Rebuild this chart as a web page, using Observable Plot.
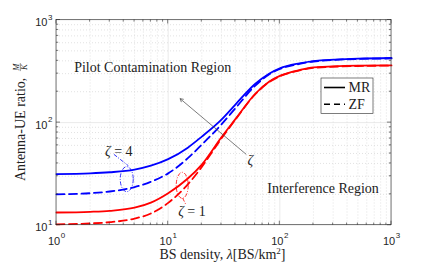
<!DOCTYPE html>
<html><head><meta charset="utf-8">
<script src="https://cdn.jsdelivr.net/npm/d3@7"></script>
<script src="https://cdn.jsdelivr.net/npm/@observablehq/plot@0.6"></script>
<style>body{margin:0;background:#fff}</style>
</head><body><div id="chart"></div>
<script>
const lambda  = [1, 2, 3, 5, 7, 10, 15, 20, 30, 40, 60, 80, 100, 150, 200, 500, 1000];
const mrZeta4 = [31.5, 32, 32.8, 34.8, 38, 44, 57, 73, 107, 150, 238, 300, 338, 378, 398, 420, 426];
const zfZeta4 = [20, 20.5, 21.3, 23.5, 26.5, 32, 45, 61, 96, 138, 228, 294, 333, 373, 394, 417, 422];
const mrZeta1 = [13.3, 13.5, 13.8, 14.8, 16.6, 20.5, 28.5, 39, 72, 108, 190, 250, 285, 325, 345, 359, 361];
const zfZeta1 = [10.2, 10.4, 10.7, 11.6, 13, 16.5, 25, 37, 70, 107, 188, 248, 283, 322, 342, 356, 359];

const xTicks = [1, 10, 100, 1000];
const xTickExp = ["0", "1", "2", "3"];
const yTicks = [10, 100, 1000];
const yTickExp = ["1", "2", "3"];

const seriesNames = ["MR ζ=4", "ZF ζ=4", "MR ζ=1", "ZF ζ=1"];
const seriesColors = ["#0000ff", "#0000ff", "#ff0000", "#ff0000"];
const seriesDash = ["none", "8,4.5", "none", "8,4.5"];
const seriesValues = [mrZeta4, zfZeta4, mrZeta1, zfZeta1];

// annotations (data coordinates)
const regionLabels = [
  {x: 7.27, y: 346, text: "Pilot Contamination Region"},
  {x: 244, y: 23, text: "Interference Region"}
];
const arrowSpec = {x1: 49.7, y1: 49.3, x2: 12.8, y2: 171};
const arrowLabel = {x: 55, y: 42.8};
const zetaLabels = [
  {x: 3.65, y: 52.4, value: "4", ex: 4.3, ey: 27.8, rx: 6.5, ry: 12.5, lx1: 3.3, ly1: 48.5, lx2: 4.45, ly2: 37.5},
  {x: 16.5, y: 13.6, value: "1", ex: 13.5, ey: 24.2, rx: 6, ry: 13, lx1: 13.6, ly1: 18.2, lx2: 14.6, ly2: 15.6}
];
const legendItems = [{label: "MR", dash: "none"}, {label: "ZF", dash: "6,4"}];

const rows = [];
seriesNames.forEach((s, i) => lambda.forEach((l, j) => rows.push({series: s, lambda: l, value: seriesValues[i][j]})));

const serif = "'Liberation Serif','Times New Roman',serif";
const sans = "'Liberation Sans',Arial,sans-serif";
const axisColor = "#262626";

const minorX = [];
[1, 10, 100].forEach(d => { for (let k = 2; k <= 9; k++) minorX.push(d * k); });
const minorY = [];
[10, 100].forEach(d => { for (let k = 2; k <= 9; k++) minorY.push(d * k); });

function decor(index, scales, values, dims) {
  const x = scales.x, y = scales.y;
  const L = dims.marginLeft, R = dims.width - dims.marginRight;
  const T = dims.marginTop, B = dims.height - dims.marginBottom;
  const g = d3.create("svg:g").attr("text-anchor", "start");
  // ticks (inside, all four sides)
  const tk = g.append("g").attr("stroke", axisColor).attr("stroke-width", 0.6);
  xTicks.forEach(v => { const px = x(v);
    tk.append("line").attr("x1", px).attr("x2", px).attr("y1", B).attr("y2", B - 4);
    tk.append("line").attr("x1", px).attr("x2", px).attr("y1", T).attr("y2", T + 4); });
  minorX.forEach(v => { const px = x(v);
    tk.append("line").attr("x1", px).attr("x2", px).attr("y1", B).attr("y2", B - 2.2);
    tk.append("line").attr("x1", px).attr("x2", px).attr("y1", T).attr("y2", T + 2.2); });
  yTicks.forEach(v => { const py = y(v);
    tk.append("line").attr("x1", L).attr("x2", L + 4).attr("y1", py).attr("y2", py);
    tk.append("line").attr("x1", R).attr("x2", R - 4).attr("y1", py).attr("y2", py); });
  minorY.forEach(v => { const py = y(v);
    tk.append("line").attr("x1", L).attr("x2", L + 2.2).attr("y1", py).attr("y2", py);
    tk.append("line").attr("x1", R).attr("x2", R - 2.2).attr("y1", py).attr("y2", py); });
  g.append("rect").attr("x", L).attr("y", T).attr("width", R - L).attr("height", B - T)
    .attr("fill", "none").attr("stroke", axisColor).attr("stroke-width", 0.6);

  // zeta annotations: ellipses, leaders, labels
  zetaLabels.forEach(z => {
    const c = z.value === "4" ? "#0000ff" : "#ff0000";
    g.append("ellipse").attr("cx", x(z.ex)).attr("cy", y(z.ey)).attr("rx", z.rx).attr("ry", z.ry)
      .attr("fill", "none").attr("stroke", c)
      .attr("stroke-width", 0.8).attr("stroke-dasharray", "4,1.5,1,1.5");
    g.append("line").attr("x1", x(z.lx1)).attr("y1", y(z.ly1)).attr("x2", x(z.lx2)).attr("y2", y(z.ly2))
      .attr("stroke", c).attr("stroke-width", 0.8)
      .attr("stroke-dasharray", "4,1.5,1,1.5");
    const t = g.append("text").attr("x", x(z.x)).attr("y", y(z.y)).attr("dy", "0.35em")
      .attr("text-anchor", "middle").attr("font-family", serif).attr("font-size", 14).attr("fill", "#222");
    t.append("tspan").attr("font-style", "italic").text("ζ");
    t.append("tspan").text(" = " + z.value);
  });
  g.append("text").attr("x", x(arrowLabel.x)).attr("y", y(arrowLabel.y)).attr("dy", "0.35em")
    .attr("text-anchor", "middle").attr("font-family", serif).attr("font-size", 14)
    .attr("font-style", "italic").attr("fill", "#222").text("ζ");

  // legend
  const lg = g.append("g");
  const lx = R - 70, ly = T + 58.5;
  lg.append("rect").attr("x", lx).attr("y", ly).attr("width", 52).attr("height", 35.5)
    .attr("fill", "#fff").attr("stroke", axisColor).attr("stroke-width", 0.6);
  legendItems.forEach((it, i) => {
    const yy = ly + 9.5 + i * 16.7;
    lg.append("line").attr("x1", lx + 3).attr("x2", lx + 24).attr("y1", yy).attr("y2", yy)
      .attr("stroke", "#000").attr("stroke-width", 1.6).attr("stroke-dasharray", it.dash);
    lg.append("text").attr("x", lx + 27.5).attr("y", yy).attr("dy", "0.35em").attr("text-anchor", "start")
      .attr("font-family", serif).attr("font-size", 14).attr("fill", "#222").text(it.label);
  });

  // y label with fraction
  const yl = g.append("g").attr("transform", `translate(20,${(T + B) / 2}) rotate(-90)`);
  yl.append("text").attr("x", -59).attr("y", 4.5).attr("text-anchor", "start")
    .attr("font-family", serif).attr("font-size", 14)
    .attr("fill", "#222").text("Antenna-UE ratio,");
  yl.append("text").attr("x", 55).attr("y", -1).attr("font-family", serif).attr("font-size", 8.5)
    .attr("font-style", "italic").attr("text-anchor", "middle").attr("fill", "#222").text("M");
  yl.append("line").attr("x1", 51).attr("x2", 59).attr("y1", 0.3).attr("y2", 0.3)
    .attr("stroke", "#222").attr("stroke-width", 0.5);
  yl.append("text").attr("x", 55).attr("y", 7).attr("font-family", serif).attr("font-size", 8.5)
    .attr("font-style", "italic").attr("text-anchor", "middle").attr("fill", "#222").text("K");

  // x label
  const xl = g.append("text").attr("x", (L + R) / 2 - 1).attr("y", B + 34.5).attr("text-anchor", "middle")
    .attr("font-family", serif).attr("font-size", 14).attr("fill", "#222");
  xl.append("tspan").text("BS density, ");
  xl.append("tspan").attr("font-style", "italic").text("λ");
  xl.append("tspan").text("[BS/km");
  xl.append("tspan").attr("font-size", 9).attr("dy", -5).text("2");
  xl.append("tspan").attr("dy", 5).text("]");
  return g.node();
}

const chart = Plot.plot({
  width: 432, height: 264,
  marginLeft: 56, marginRight: 41, marginTop: 19.5, marginBottom: 39.3,
  x: {type: "log", domain: [1, 1000], axis: null},
  y: {type: "log", domain: [10, 1000], axis: null},
  style: {background: "#fff"},
  marks: [
    Plot.ruleX(minorX, {x: d => d, stroke: "#cfcfcf", strokeWidth: 0.6, strokeDasharray: "1,2"}),
    Plot.ruleY(minorY, {y: d => d, stroke: "#cfcfcf", strokeWidth: 0.6, strokeDasharray: "1,2"}),
    Plot.ruleX(xTicks, {x: d => d, stroke: "#dcdcdc", strokeWidth: 0.6}),
    Plot.ruleY(yTicks, {y: d => d, stroke: "#dcdcdc", strokeWidth: 0.6}),
    ...seriesNames.map((s, i) => Plot.line(rows.filter(r => r.series === s), {
      x: "lambda", y: "value", stroke: seriesColors[i], strokeWidth: 1.8,
      strokeDasharray: seriesDash[i], curve: "monotone-x"
    })),
    Plot.arrow([arrowSpec], {x1: "x1", y1: "y1", x2: "x2", y2: "y2", stroke: "#444",
      strokeWidth: 0.7, headLength: 7, bend: 0}),
    Plot.text(regionLabels, {x: "x", y: "y", text: "text", fontFamily: serif, fontSize: 14,
      fill: "#222", textAnchor: "middle"}),
    Plot.text(xTicks, {x: d => d, y: 10, text: () => "10", dx: -2.5, dy: 15.8,
      fontFamily: sans, fontSize: 11, fill: "#262626", textAnchor: "middle"}),
    Plot.text(xTicks, {x: d => d, y: 10, text: (d, i) => xTickExp[i], dx: 6.5, dy: 10.3,
      fontFamily: sans, fontSize: 8, fill: "#262626", textAnchor: "middle"}),
    Plot.text(yTicks, {x: 1, y: d => d, text: () => "10", dx: -9, dy: 2.5,
      fontFamily: sans, fontSize: 11, fill: "#262626", textAnchor: "end"}),
    Plot.text(yTicks, {x: 1, y: d => d, text: (d, i) => yTickExp[i], dx: -8.5, dy: -3,
      fontFamily: sans, fontSize: 8, fill: "#262626", textAnchor: "start"}),
    decor
  ]
});
document.getElementById("chart").appendChild(chart);
</script>
</body></html>
